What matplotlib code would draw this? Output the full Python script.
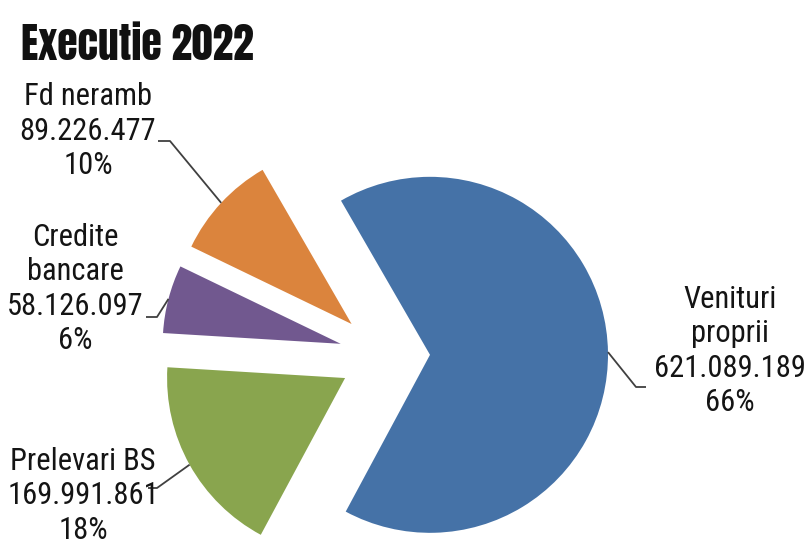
import matplotlib
matplotlib.use('Agg')
import matplotlib.pyplot as plt
import numpy as np

# --- data ---
labels = ['Venituri\nproprii', 'Prelevari BS', 'Credite\nbancare', 'Fd neramb']
values = [621089189, 169991861, 58126097, 89226477]
colors = ['#4572A7', '#89A54E', '#71588F', '#DB843D']
explode = [0.25, 0.26, 0.26, 0.26]

W, H = 807, 544
CX, CY, R = 385.5, 355.5, 178.0   # pie centre / radius in pixels

plt.rcParams['font.family'] = ['Roboto Condensed', 'Liberation Sans', 'DejaVu Sans']


def px(x, y):
    # pixel (from top-left) -> data coords
    return (x - CX) / R, (CY - y) / R


fig = plt.figure(figsize=(W / 100, H / 100), dpi=100)
fig.patch.set_facecolor('white')
ax = fig.add_axes([0, 0, 1, 1])

wedges, _ = ax.pie(values, colors=colors, explode=explode, startangle=120,
                   counterclock=False, radius=1.0,
                   wedgeprops=dict(linewidth=0))
ax.set_aspect('auto')
ax.set_xlim(-CX / R, (W - CX) / R)
ax.set_ylim(-(H - CY) / R, CY / R)
ax.axis('off')

total = sum(values)
# label block centre (px) and leader end / elbow (px)
label_pos = [(730, 351), (83, 496), (75, 289), (88, 131)]
elbows = [((646, 387), (636, 387)),
          ((148, 488), (157, 488)),
          ((146, 317), (157, 317)),
          ((158, 141), (170, 141))]

for w, lab, val, pos, (p0, p1) in zip(wedges, labels, values, label_pos, elbows):
    pct = val / total * 100
    num = f'{val:,}'.replace(',', '.')
    txt = f'{lab}\n{num}\n{pct:.0f}%'
    tx, ty = px(*pos)
    ax.text(tx, ty, txt, ha='center', va='center', fontsize=22,
            color='#141414', linespacing=1.22, multialignment='center')
    # leader line ends on the middle of the wedge arc
    mid = np.deg2rad((w.theta1 + w.theta2) / 2)
    ex = w.center[0] + w.r * np.cos(mid)
    ey = w.center[1] + w.r * np.sin(mid)
    a = px(*p0)
    b = px(*p1)
    ax.plot([a[0], b[0], ex], [a[1], b[1], ey], color='#404040', lw=1.3,
            solid_capstyle='butt')

fig.text(21 / W, 1 - 60 / H, 'Executie 2022', ha='left', va='baseline',
         fontsize=30, color='#111111',
         family=['Anton', 'Oswald', 'Roboto Condensed', 'DejaVu Sans'])

fig.savefig('out.png', dpi=100, facecolor='white')
